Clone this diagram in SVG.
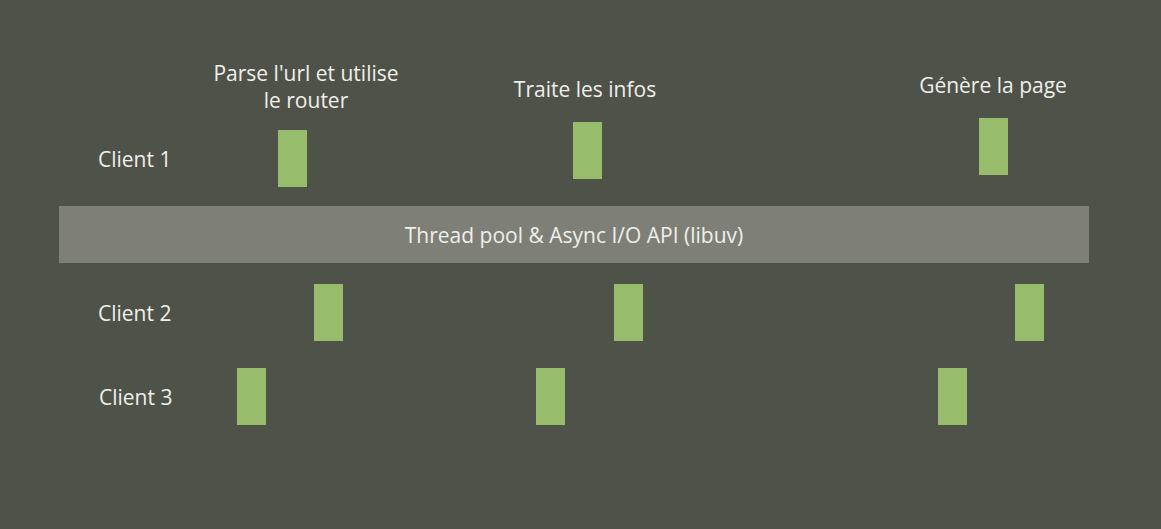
<svg xmlns="http://www.w3.org/2000/svg" width="1161" height="529" viewBox="0 0 1161 529">
<style>
.t{font-family:"Open Sans","Noto Sans",sans-serif;font-size:21px;fill:#efefea}
.c{text-anchor:middle}
.b{fill:#97bd6c}
</style>
<rect width="1161" height="529" fill="#4f5249"/>
<g id="labels">
<text class="t c" x="306" y="81">Parse l'url et utilise</text>
<text class="t c" x="306" y="108">le router</text>
<text class="t c" x="585" y="97">Traite les infos</text>
<text class="t c" x="993" y="93">Génère la page</text>
</g>
<g id="client1">
<text class="t" x="98" y="167">Client 1</text>
<rect class="b" x="278" y="130" width="29" height="57"/>
<rect class="b" x="573" y="122" width="29" height="57"/>
<rect class="b" x="979" y="118" width="29" height="57"/>
</g>
<g id="pool">
<rect x="59" y="206" width="1030" height="57" fill="#7e8078"/>
<text class="t c" x="574" y="243">Thread pool &amp; Async I/O API (libuv)</text>
</g>
<g id="client2">
<text class="t" x="98" y="321">Client 2</text>
<rect class="b" x="314" y="284" width="29" height="57"/>
<rect class="b" x="614" y="284" width="29" height="57"/>
<rect class="b" x="1015" y="284" width="29" height="57"/>
</g>
<g id="client3">
<text class="t" x="99" y="405">Client 3</text>
<rect class="b" x="237" y="368" width="29" height="57"/>
<rect class="b" x="536" y="368" width="29" height="57"/>
<rect class="b" x="938" y="368" width="29" height="57"/>
</g>
<g id="connectors"/>
</svg>
